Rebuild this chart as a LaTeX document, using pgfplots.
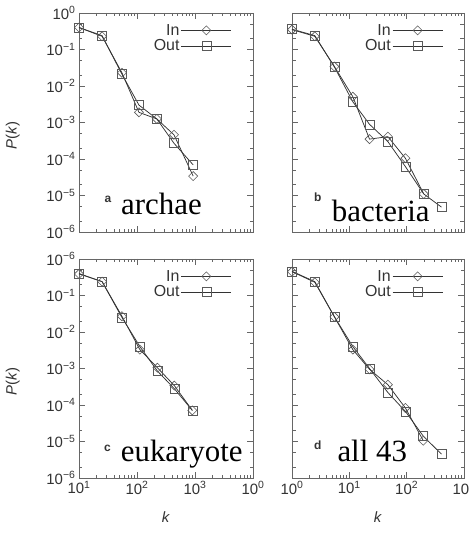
\documentclass[border=0pt]{standalone}
\usepackage{fontspec}
\setmainfont{Liberation Serif}
\setsansfont{Liberation Sans}
\usepackage{pgfplots}
\pgfplotsset{compat=1.18}

\definecolor{frameg}{gray}{0.4}
\definecolor{inkg}{gray}{0.2}
\definecolor{markg}{gray}{0.35}

\newcommand\tp[1]{10\textsuperscript{#1}}
\newcommand\legline{\draw[mark repeat=2,mark phase=2]
  plot coordinates {(0bp,0bp)(25bp,0bp)(50bp,0bp)};}

\tikzset{
  serIn/.style={inkg, line width=0.75bp, mark=square, mark size=3.2bp,
    mark options={markg, line width=0.6bp, solid, rotate=45}},
  serOut/.style={inkg, line width=0.75bp, mark=square, mark size=4.5bp,
    mark options={markg, line width=0.6bp, solid}},
}

\pgfplotsset{
  every axis/.append style={
    scale only axis, height=219bp,
    ymin=1e-6, ymax=1,
    ytick={1e-6,1e-5,1e-4,1e-3,1e-2,1e-1,1},
    minor ytick={2e-6,5e-6,2e-5,5e-5,2e-4,5e-4,2e-3,5e-3,2e-2,5e-2,2e-1,5e-1},
    axis line style={frameg, line width=0.7bp},
    tick style={frameg, line width=0.6bp},
    tick align=inside, xtick pos=both, ytick pos=both,
    major tick length=6bp, minor tick length=3.5bp,
    tick label style={font=\sffamily\fontsize{15}{15}\selectfont, text=inkg},
    label style={font=\sffamily\fontsize{15}{15}\selectfont, text=inkg},
    legend cell align=right,
    legend style={draw=none, fill=none, at={(0.879,0.957)}, anchor=north east,
      font=\sffamily\fontsize{16}{16}\selectfont, text=inkg, inner sep=0pt,
      row sep=0pt, nodes={inner sep=1.5bp}},
    legend plot pos=right,
    clip=false,
  },
}

\begin{document}
\begin{tikzpicture}
\path[use as bounding box] (0,0) rectangle (469bp,534bp);

% a archae
\begin{loglogaxis}[at={(79bp,302bp)}, width=174bp,
  xmin=10, xmax=1e4, xtick={10,100,1000,10000}, xticklabels={},
  yticklabels={\tp{−6},\tp{−5},\tp{−4},\tp{−3},\tp{−2},\tp{−1},\tp{0}},
  ylabel={\textit{P}(\textit{k})},
  ylabel style={at={(axis description cs:-0.38,0.44)}, anchor=center}]
\addplot[serIn, legend image code/.code={\legline}] coordinates {(10,0.40)(25,0.23)(55,0.023)(108,0.0019)(220,0.00125)(434,4.6e-4)(930,3.4e-5)};
\addplot[serOut, legend image code/.code={\legline}] coordinates {(10,0.40)(25,0.24)(55,0.021)(108,0.0030)(220,0.00125)(434,2.7e-4)(930,6.9e-5)};
\legend{In,Out}
\end{loglogaxis}

% b bacteria
\begin{loglogaxis}[at={(292bp,302bp)}, width=172bp,
  xmin=1, xmax=1000, xtick={1,10,100,1000}, xticklabels={}, yticklabels={}]
\addplot[serIn, legend image code/.code={\legline}] coordinates {(1,0.35)(2.5,0.23)(5.5,0.034)(11.5,0.0051)(22.5,3.5e-4)(47,4.1e-4)(95,1.05e-4)(199,1.1e-5)};
\addplot[serOut, legend image code/.code={\legline}] coordinates {(1,0.36)(2.5,0.24)(5.5,0.033)(11.5,0.0037)(22.5,8.9e-4)(47,3.0e-4)(95,6.2e-5)(199,1.1e-5)(405,4.8e-6)};
\legend{In,Out}
\end{loglogaxis}

% c eukaryote
\begin{loglogaxis}[at={(79bp,56bp)}, width=174bp,
  xmin=10, xmax=1e4, xtick={10,100,1000,10000},
  xticklabels={\tp{1},\tp{2},\tp{3},\tp{0}},
  yticklabels={\tp{−6},\tp{−5},\tp{−4},\tp{−3},\tp{−2},\tp{−1},\tp{−6}},
  ylabel={\textit{P}(\textit{k})},
  ylabel style={at={(axis description cs:-0.38,0.44)}, anchor=center},
  xlabel={\textit{k}},
  xlabel style={at={(axis description cs:0.5,-0.178)}, anchor=center}]
\addplot[serIn, legend image code/.code={\legline}] coordinates {(10,0.39)(25,0.24)(55,0.027)(112,0.0033)(225,0.00105)(440,3.4e-4)(900,7.1e-5)};
\addplot[serOut, legend image code/.code={\legline}] coordinates {(10,0.40)(25,0.24)(55,0.025)(112,0.0040)(225,8.5e-4)(440,2.8e-4)(900,7.1e-5)};
\legend{In,Out}
\end{loglogaxis}

% d all 43
\begin{loglogaxis}[at={(292bp,56bp)}, width=172bp,
  xmin=1, xmax=1000, xtick={1,10,100,1000},
  xticklabels={\tp{0},\tp{1},\tp{2},\tp{3}}, yticklabels={},
  xlabel={\textit{k}},
  xlabel style={at={(axis description cs:0.5,-0.178)}, anchor=center}]
\addplot[serIn, legend image code/.code={\legline}] coordinates {(1,0.45)(2.5,0.23)(5.5,0.026)(11.5,0.0033)(22.5,9.5e-4)(47,3.6e-4)(95,8.3e-5)(195,1.05e-5)};
\addplot[serOut, legend image code/.code={\legline}] coordinates {(1,0.46)(2.5,0.24)(5.5,0.026)(11.5,0.0040)(22.5,1.0e-3)(47,2.2e-4)(95,6.7e-5)(195,1.4e-5)(405,4.5e-6)};
\legend{In,Out}
\end{loglogaxis}

% panel letters and names
\tikzset{plet/.style={font=\sffamily\bfseries\fontsize{12}{12}\selectfont, anchor=base, text=inkg},
  pname/.style={font=\fontsize{31}{31}\selectfont, anchor=base west, inner sep=0pt}}
\node[plet] at (108bp,331bp) {a};
\node[pname] at (121bp,319.7bp) {archae};
\node[plet] at (317.7bp,332.3bp) {b};
\node[pname] at (331.7bp,312.3bp) {bacteria};
\node[plet] at (107.5bp,82bp) {c};
\node[pname] at (120.7bp,72.3bp) {eukaryote};
\node[plet] at (317.7bp,84bp) {d};
\node[pname] at (337.3bp,72.3bp) {all 43};
\end{tikzpicture}
\end{document}
